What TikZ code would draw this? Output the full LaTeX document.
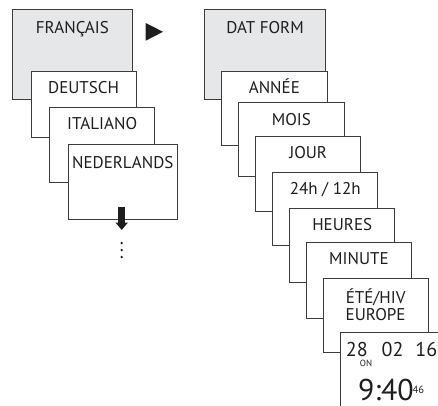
\documentclass[tikz,border=0pt]{standalone}
\usepackage{fontspec}
\setmainfont{PT Sans}
\usepackage{xcolor}
\definecolor{frame}{HTML}{3C3C3C}
\definecolor{panel}{HTML}{E6E7E8}
\definecolor{ink}{HTML}{1E1E1E}
\usetikzlibrary{positioning,arrows.meta}

\begin{document}
\begin{tikzpicture}[
    x=1pt, y=-1pt,
    head/.style={rectangle, draw=frame, fill=panel, line width=0.8pt, anchor=north west, minimum width=120pt, minimum height=90pt},
    entry/.style={rectangle, draw=frame, fill=white, line width=0.8pt, anchor=north west, minimum width=105pt, minimum height=75pt},
    title/.style={font=\fontsize{17}{19}\selectfont, text=ink, inner sep=0pt, text height=12pt, text depth=3.5pt},
    digits/.style={text=ink, inner sep=0pt, anchor=base, text depth=0pt},
]
\useasboundingbox (0,0) rectangle (438,405);

% Spalte 1: Sprache
\node[head] (francais) at (12,9.3) {};
\node[title, below=12pt of francais.north] {FRANÇAIS};

\node[entry, minimum height=66.7pt] (deutsch) at (30.7,70.7) {};
\node[title, below=11pt of deutsch.north] {DEUTSCH};

\node[entry] (italiano) at (49.3,106.7) {};
\node[title, below=11pt of italiano.north] {ITALIANO};

\node[entry, minimum width=108.7pt] (nederlands) at (68,144) {};
\node[title, below=12pt of nederlands.north] {NEDERLANDS};

% Pfeil nach unten und Punkte
\coordinate (down0) at (121.7,207);
\coordinate (down1) at (121.7,230);
\draw[ink, line width=7pt, -{Triangle[width=12pt,length=7.5pt]}] (down0) -- (down1);
\foreach \y in {243,250,257}
    \fill[ink] (121.7,\y) circle (1.3pt);

% Weiter-Dreieck
\fill[ink] (145.7,23) -- (163,31.8) -- (145.7,40.7) -- cycle;

% Spalte 2: Datumsformat
\node[head, minimum width=120.7pt] (datform) at (204.3,9.3) {};
\node[title, below=12pt of datform.north] {DAT FORM};

\node[entry, minimum width=105.3pt, minimum height=74.7pt] (annee) at (221.3,70.7) {};
\node[title, below=11pt of annee.north] {ANNÉE};

\node[entry, minimum width=105.3pt, minimum height=74pt] (mois) at (238.3,102.3) {};
\node[title, below=11pt of mois.north] {MOIS};

\node[entry] (jour) at (255.3,136) {};
\node[title, below=10.7pt of jour.north] {JOUR};

\node[entry, minimum height=72.7pt] (format) at (272.3,172.3) {};
\node[title, below=9.5pt of format.north] {24h / 12h};

\node[entry, minimum height=73.3pt] (heures) at (289.3,208.3) {};
\node[title, below=10pt of heures.north] {HEURES};

\node[entry, minimum height=76pt] (minute) at (306,241.7) {};
\node[title, below=10.7pt of minute.north] {MINUTE};

\node[entry, minimum height=74pt] (ete) at (322.7,278.3) {};
\node[title, below=13pt of ete.north] (ete1) {ÉTÉ/HIV};
\node[title, below=1.2pt of ete1] (ete2) {EUROPE};

% Anzeige
\node[rectangle, fill=white, anchor=north west, minimum width=110pt, minimum height=80pt] (disp) at (340,332.7) {};
\draw[frame, line width=0.8pt] (disp.north east) -- (disp.north west) -- (disp.south west);
\node[digits, font=\fontsize{20}{20}\selectfont] (day) at (356.8,356.7) {28};
\node[digits, font=\fontsize{20}{20}\selectfont] (month) at (392.5,356.7) {02};
\node[digits, font=\fontsize{20}{20}\selectfont] (year) at (426.3,356.7) {16};
\node[digits, font=\fontsize{9}{9}\selectfont] (on) at (366,366) {ON};
\node[digits, font=\fontsize{30}{30}\selectfont] (clock) at (386,400) {9:40};
\node[digits, font=\fontsize{10.5}{10.5}\selectfont, anchor=base west] (sec) at (412.5,393.3) {46};

\end{tikzpicture}
\end{document}
